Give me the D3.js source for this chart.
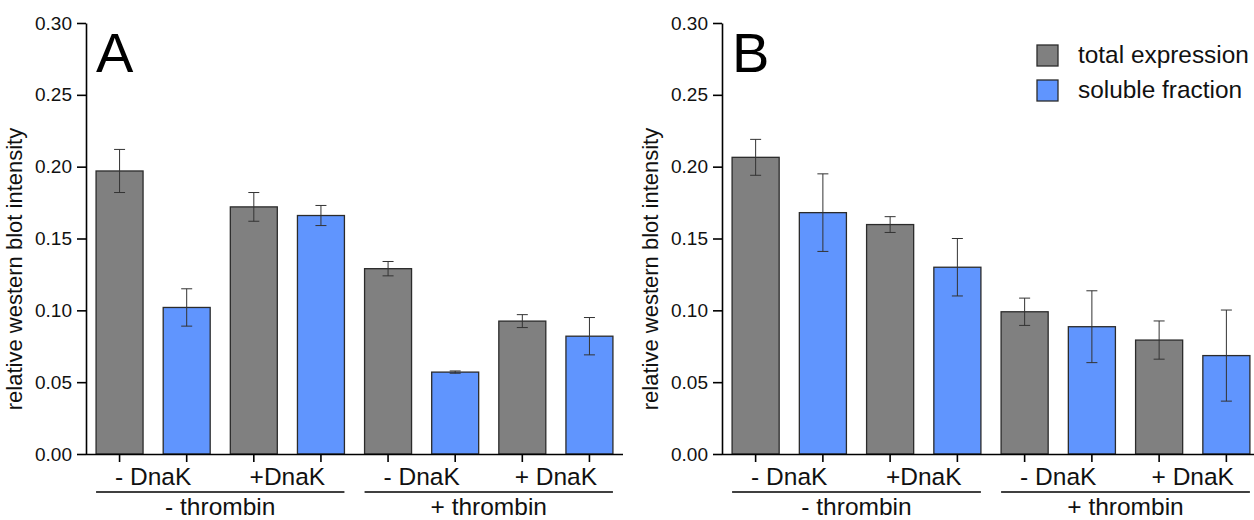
<!DOCTYPE html>
<html>
<head>
<meta charset="utf-8">
<script src="https://cdn.jsdelivr.net/npm/d3@7"></script>
<style>
  body { margin: 0; background: #fff; }
  svg { display: block; font-family: "Liberation Sans", Arial, sans-serif; }
</style>
</head>
<body>
<div id="chart"></div>
<script>
// bar order: total, soluble, total, soluble ...
const conditions = ["- DnaK", "+DnaK", "- DnaK", "+ DnaK"];
const groups = ["- thrombin", "+ thrombin"];
const seriesNames = ["total expression", "soluble fraction"];
const yTicks = [0, 0.05, 0.10, 0.15, 0.20, 0.25, 0.30];

const totalA = [0.197, 0.172, 0.129, 0.0925];
const totalErrA = [0.015, 0.010, 0.005, 0.0045];
const solubleA = [0.102, 0.166, 0.057, 0.082];
const solubleErrA = [0.013, 0.007, 0.0008, 0.013];

const totalB = [0.2065, 0.1597, 0.099, 0.0793];
const totalErrB = [0.0125, 0.0055, 0.0095, 0.0133];
const solubleB = [0.168, 0.130, 0.0886, 0.0685];
const solubleErrB = [0.027, 0.020, 0.025, 0.0317];

const colors = ["#808080", "#6095fe"];

const W = 1254, H = 520;
const svg = d3.select("#chart").append("svg")
  .attr("width", W)
  .attr("height", H);

const y = d3.scaleLinear().domain([0, 0.30]).range([454, 23]);

function drawPanel(left, right, letter, totals, totalErr, solubles, solubleErr, legend) {
  const g = svg.append("g");
  const bars = [];
  conditions.forEach((c, i) => {
    bars.push({ key: "t" + i, cond: i, s: 0, v: totals[i], e: totalErr[i] });
    bars.push({ key: "s" + i, cond: i, s: 1, v: solubles[i], e: solubleErr[i] });
  });

  const x = d3.scaleBand()
    .domain(bars.map(d => d.key))
    .range([left, right])
    .paddingInner(0.3)
    .paddingOuter(0.15);

  // bars
  g.selectAll("rect.bar")
    .data(bars)
    .enter()
    .append("rect")
    .attr("class", "bar")
    .attr("x", d => x(d.key))
    .attr("y", d => y(d.v))
    .attr("width", x.bandwidth())
    .attr("height", d => y(0) - y(d.v))
    .style("fill", d => colors[d.s])
    .style("stroke", "#2b2b2b")
    .style("stroke-width", 1.3);

  // error bars
  const cx = d => x(d.key) + x.bandwidth() / 2;
  const eb = g.selectAll("g.err")
    .data(bars)
    .enter()
    .append("g")
    .attr("class", "err")
    .style("stroke", "#333")
    .style("stroke-width", 1);
  eb.append("line")
    .attr("x1", cx).attr("x2", cx)
    .attr("y1", d => y(d.v + d.e)).attr("y2", d => y(d.v - d.e));
  eb.append("line")
    .attr("x1", d => cx(d) - 5.5).attr("x2", d => cx(d) + 5.5)
    .attr("y1", d => y(d.v + d.e)).attr("y2", d => y(d.v + d.e));
  eb.append("line")
    .attr("x1", d => cx(d) - 5.5).attr("x2", d => cx(d) + 5.5)
    .attr("y1", d => y(d.v - d.e)).attr("y2", d => y(d.v - d.e));

  // y axis
  const yAxis = g.append("g")
    .attr("transform", `translate(${left},0)`)
    .call(d3.axisLeft(y).tickValues(yTicks).tickFormat(d3.format(".2f")).tickSize(9).tickSizeOuter(0));
  yAxis.select(".domain").attr("stroke", "#000").attr("stroke-width", 1.6);
  yAxis.selectAll(".tick line").attr("stroke", "#000").attr("stroke-width", 1.6);
  yAxis.selectAll(".tick text")
    .attr("x", -14)
    .style("font-size", "19px")
    .style("fill", "#111")
    .style("font-family", "Liberation Sans, Arial, sans-serif");

  // x axis
  const xAxis = g.append("g")
    .attr("transform", `translate(0,${y(0)})`)
    .call(d3.axisBottom(x).tickSize(8).tickSizeOuter(0).tickFormat(""));
  xAxis.select(".domain").attr("d", `M${left},0.5H${Math.min(right, W)}`)
    .attr("stroke", "#000").attr("stroke-width", 1.6);
  xAxis.selectAll(".tick line").attr("stroke", "#000").attr("stroke-width", 1.6);

  // condition labels centred under each pair
  g.selectAll("text.cond")
    .data(conditions)
    .enter()
    .append("text")
    .attr("class", "cond")
    .attr("x", (d, i) => (cx(bars[2 * i]) + cx(bars[2 * i + 1])) / 2)
    .attr("y", 485)
    .attr("text-anchor", "middle")
    .style("font-size", "24.5px")
    .style("fill", "#111")
    .text(d => d);

  // group underline + label
  groups.forEach((gr, k) => {
    const x0 = x(bars[4 * k].key);
    const x1 = x(bars[4 * k + 3].key) + x.bandwidth();
    g.append("line")
      .attr("x1", x0).attr("x2", x1)
      .attr("y1", 492).attr("y2", 492)
      .style("stroke", "#000").style("stroke-width", 1.6);
    g.append("text")
      .attr("x", (x0 + x1) / 2)
      .attr("y", 515)
      .attr("text-anchor", "middle")
      .style("font-size", "24.5px")
      .style("fill", "#111")
      .text(gr);
  });

  // y label
  g.append("text")
    .attr("transform", `translate(${left - 64},269) rotate(-90)`)
    .attr("text-anchor", "middle")
    .style("font-size", "22px")
    .style("fill", "#111")
    .text("relative western blot intensity");

  // panel letter
  g.append("text")
    .attr("x", left + 10)
    .attr("y", 72)
    .style("font-size", "56px")
    .style("fill", "#000")
    .text(letter);

  if (legend) {
    const lg = g.selectAll("g.leg")
      .data(seriesNames)
      .enter()
      .append("g")
      .attr("class", "leg")
      .attr("transform", (d, i) => `translate(1037,${45 + i * 35})`);
    lg.append("rect")
      .attr("width", 21).attr("height", 21)
      .style("fill", (d, i) => colors[i])
      .style("stroke", "#2b2b2b")
      .style("stroke-width", 1.3);
    lg.append("text")
      .attr("x", 41)
      .attr("y", 18)
      .style("font-size", "24.4px")
      .style("fill", "#111")
      .text(d => d);
  }
}

drawPanel(86, 623, "A", totalA, totalErrA, solubleA, solubleErrA, false);
drawPanel(722, 1260, "B", totalB, totalErrB, solubleB, solubleErrB, true);
</script>
</body>
</html>
